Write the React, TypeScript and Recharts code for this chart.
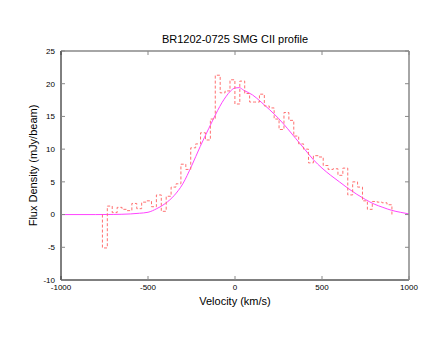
import React from 'react';
import { ComposedChart, Line, XAxis, YAxis } from 'recharts';

// left edges of the velocity channels (km/s), last entry is the right edge of the final channel
const binEdges = [
  -762.0, -733.8, -705.6, -677.4, -649.2, -621.0, -592.8, -564.6, -536.4, -508.2,
  -480.0, -451.8, -423.6, -395.4, -367.2, -339.0, -310.8, -282.6, -254.4, -226.2,
  -198.0, -169.8, -141.6, -113.4, -85.2, -57.0, -28.8, -0.6, 27.6, 55.8,
  84.0, 112.2, 140.4, 168.6, 196.8, 225.0, 253.2, 281.4, 309.6, 337.8,
  366.0, 394.2, 422.4, 450.6, 478.8, 507.0, 535.2, 563.4, 591.6, 619.8,
  648.0, 676.2, 704.4, 732.6, 760.8, 789.0, 817.2, 845.4, 873.6, 901.8,
];

// flux per channel (mJy/beam)
const binFlux = [
  -5.1, 1.3, 0.3, 1.1, 0.8, 0.6, 1.7, 0.9, 1.9, 2.1,
  1.2, 3.0, 0.5, 2.8, 4.2, 4.7, 7.7, 6.9, 10.2, 10.8,
  12.5, 11.4, 14.6, 21.3, 18.6, 18.9, 20.6, 16.9, 20.4, 18.5,
  17.2, 17.2, 18.4, 16.6, 16.3, 14.6, 13.0, 15.6, 14.4, 12.0,
  10.8, 10.0, 7.9, 9.0, 8.8, 7.5, 6.9, 7.0, 6.0, 7.1,
  3.0, 5.0, 4.2, 2.1, 0.8, 2.0, 1.9, 1.8, 1.5,
];

// fitted profile
const fitVelocity = [
  -1000, -800, -700, -600, -550, -500, -450, -400, -350, -300,
  -250, -200, -150, -100, -75, -50, -25, 0, 25, 50,
  100, 150, 200, 250, 300, 350, 400, 450, 500, 550,
  600, 650, 700, 750, 800, 850, 900, 950, 1000,
];
const fitFlux = [
  0, 0, 0.02, 0.1, 0.2, 0.35, 0.9, 1.7, 2.9, 4.7,
  7.4, 10.4, 13.2, 15.9, 17.1, 18.1, 18.9, 19.35, 19.4, 19.0,
  18.3, 17.2, 16.0, 14.7, 13.2, 11.6, 10.0, 8.4, 7.1, 6.0,
  5.0, 4.0, 3.1, 2.3, 1.6, 1.1, 0.65, 0.35, 0.1,
];

const xTicks = [-1000, -500, 0, 500, 1000];
const yTicks = [-10, -5, 0, 5, 10, 15, 20, 25];

const stepData = [
  { v: binEdges[0], flux: 0 },
  ...binFlux.map((f, i) => ({ v: binEdges[i], flux: f })),
  { v: binEdges[binEdges.length - 1], flux: binFlux[binFlux.length - 1] },
  { v: binEdges[binEdges.length - 1], flux: 0 },
];
const fitData = fitVelocity.map((v, i) => ({ v, flux: fitFlux[i] }));

const font = '"Liberation Sans", Arial, sans-serif';
const tickStyle = { fontSize: 8, fill: '#000', fontFamily: font };

export default function App() {
  return (
    <div style={{ position: 'absolute', left: 0, top: 0, width: 436, height: 337, background: '#fff', fontFamily: font }}>
      <div style={{ position: 'absolute', left: 61, width: 348, top: 33, textAlign: 'center', fontSize: 11, lineHeight: '13px' }}>
        BR1202-0725 SMG CII profile
      </div>
      <ComposedChart width={436} height={337} margin={{ top: 50, right: 26, bottom: 27, left: 31 }}>
        <XAxis
          xAxisId="b"
          dataKey="v"
          type="number"
          domain={[-1000, 1000]}
          ticks={xTicks}
          allowDataOverflow
          height={30}
          tickSize={-4}
          tickMargin={8}
          tick={tickStyle}
          axisLine={{ stroke: '#000' }}
          tickLine={{ stroke: '#888' }}
          label={{ value: 'Velocity (km/s)', position: 'insideBottom', offset: 5, style: { fontSize: 11, fill: '#000', fontFamily: font } }}
        />
        <XAxis
          xAxisId="t"
          dataKey="v"
          type="number"
          orientation="top"
          domain={[-1000, 1000]}
          ticks={xTicks}
          allowDataOverflow
          height={1}
          tickSize={-4}
          tickFormatter={() => ''}
          axisLine={{ stroke: '#888', strokeWidth: 1.5 }}
          tickLine={{ stroke: '#888' }}
        />
        <YAxis
          yAxisId="l"
          type="number"
          domain={[-10, 25]}
          ticks={yTicks}
          allowDataOverflow
          width={30}
          tickSize={-4}
          tickMargin={10}
          tick={tickStyle}
          axisLine={{ stroke: '#000' }}
          tickLine={{ stroke: '#888' }}
          label={{ value: 'Flux Density (mJy/beam)', angle: -90, position: 'insideLeft', offset: 2, style: { textAnchor: 'middle', fontSize: 11, fill: '#000', fontFamily: font } }}
        />
        <YAxis
          yAxisId="r"
          type="number"
          orientation="right"
          domain={[-10, 25]}
          ticks={yTicks}
          allowDataOverflow
          width={1}
          tickSize={-4}
          tickFormatter={() => ''}
          axisLine={{ stroke: '#888', strokeWidth: 1.5 }}
          tickLine={{ stroke: '#888' }}
        />
        <Line
          xAxisId="b"
          yAxisId="l"
          data={fitData}
          dataKey="flux"
          type="monotone"
          stroke="#ff44ff"
          strokeWidth={1}
          dot={false}
          isAnimationActive={false}
        />
        <Line
          xAxisId="b"
          yAxisId="l"
          data={stepData}
          dataKey="flux"
          type="stepAfter"
          stroke="#ff7070"
          strokeWidth={1}
          strokeDasharray="3 2"
          dot={false}
          isAnimationActive={false}
        />
      </ComposedChart>
    </div>
  );
}
